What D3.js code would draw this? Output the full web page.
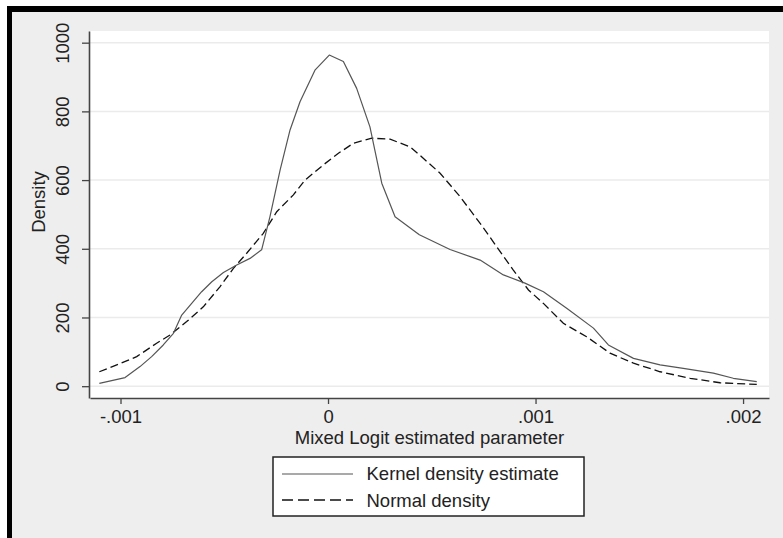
<!DOCTYPE html>
<html>
<head>
<meta charset="utf-8">
<script src="https://cdn.jsdelivr.net/npm/d3@7"></script>
<style>
  html, body { margin: 0; padding: 0; background: #ffffff; }
  svg { display: block; }
  text { font-family: "Liberation Sans", Arial, Helvetica, sans-serif; fill: #222; }
</style>
</head>
<body>
<svg id="chart" width="783" height="538"></svg>
<script>
// ---- data ----
const kernelX = [-0.001102, -0.000978, -0.000906, -0.000850, -0.000794, -0.000745, -0.000705, -0.000657,
  -0.000609, -0.000560, -0.000504, -0.000440, -0.000376, -0.000320, -0.000280, -0.000231, -0.000183,
  -0.000135, -0.000063, 0.000006, 0.000074, 0.000138, 0.000202, 0.000259, 0.000323, 0.000440, 0.000588,
  0.000733, 0.000845, 0.000949, 0.001038, 0.001150, 0.001279, 0.001351, 0.001472, 0.001600, 0.001712,
  0.001857, 0.001953, 0.002066];
const kernelY = [8, 25, 57, 86, 120, 154, 207, 241,
  275, 304, 331, 353, 372, 397, 493, 629, 746,
  828, 920, 964, 945, 867, 755, 591, 493, 441, 398,
  367, 324, 300, 275, 227, 169, 120, 81, 62, 52,
  38, 23, 13];

const normalX = [-0.001102, -0.001018, -0.000922, -0.000826, -0.000761, -0.000681, -0.000601, -0.000520,
  -0.000456, -0.000392, -0.000312, -0.000247, -0.000167, -0.000111, -0.000023, 0.000050, 0.000122,
  0.000211, 0.000299, 0.000395, 0.000443, 0.000540, 0.000636, 0.000733, 0.000813, 0.000893, 0.000966,
  0.001038, 0.001134, 0.001246, 0.001359, 0.001472, 0.001600, 0.001745, 0.001889, 0.002066];
const normalY = [42, 62, 86, 125, 149, 188, 231, 290,
  343, 387, 445, 508, 557, 600, 644, 678, 707,
  722, 719, 697, 672, 620, 552, 474, 406, 338, 280,
  241, 183, 144, 96, 67, 42, 23, 10, 5];

const xTickValues = [-0.001, 0, 0.001, 0.002];
const xTickLabels = ["-.001", "0", ".001", ".002"];
const yTickValues = [0, 200, 400, 600, 800, 1000];
const yTickLabels = ["0", "200", "400", "600", "800", "1000"];

const seriesNames = ["Kernel density estimate", "Normal density"];
const xTitle = "Mixed Logit estimated parameter";
const yTitle = "Density";

// ---- layout ----
const svg = d3.select("#chart");
const plotLeft = 90, plotRight = 769, plotTop = 31, plotBottom = 398;
const fontSize = 18.5;

// background + frame
svg.append("rect").attr("x", 0).attr("y", 0).attr("width", 783).attr("height", 538).attr("fill", "#ffffff");
svg.append("rect").attr("x", 7).attr("y", 6).attr("width", 776).attr("height", 532).attr("fill", "#000000");
svg.append("rect").attr("x", 12).attr("y", 12).attr("width", 771).attr("height", 526).attr("fill", "#eeeeee");

// scales
const x = d3.scaleLinear().domain([-0.001147, 0.002125]).range([plotLeft, plotRight]);
const y = d3.scaleLinear().domain([-34.4, 1034]).range([plotBottom, plotTop]);

// plot region
svg.append("rect").attr("x", plotLeft).attr("y", plotTop)
  .attr("width", plotRight - plotLeft).attr("height", plotBottom - plotTop)
  .attr("fill", "#ffffff");

// gridlines
svg.append("g").selectAll("line").data(yTickValues).join("line")
  .attr("x1", plotLeft).attr("x2", plotRight)
  .attr("y1", d => y(d)).attr("y2", d => y(d))
  .attr("stroke", "#ebebeb").attr("stroke-width", 1.5);

// lines
const kernelData = kernelX.map((v, i) => [v, kernelY[i]]);
const normalData = normalX.map((v, i) => [v, normalY[i]]);
const line = d3.line().x(d => x(d[0])).y(d => y(d[1]));

svg.append("path").datum(normalData).attr("d", line)
  .attr("fill", "none").attr("stroke", "#111").attr("stroke-width", 1.3)
  .attr("stroke-dasharray", "8,4");
svg.append("path").datum(kernelData).attr("d", line)
  .attr("fill", "none").attr("stroke", "#555").attr("stroke-width", 1.2)
  .attr("stroke-linejoin", "round");

// axes
const axisColor = "#444";
const yAxis = svg.append("g").attr("transform", `translate(${plotLeft - 1},0)`)
  .call(d3.axisLeft(y).tickValues(yTickValues).tickFormat((d, i) => yTickLabels[i])
    .tickSize(7).tickSizeOuter(0));
yAxis.select(".domain").attr("stroke", axisColor).attr("stroke-width", 1.6);
yAxis.selectAll(".tick line").attr("stroke", axisColor).attr("stroke-width", 1.3);
yAxis.selectAll(".tick text")
  .attr("transform", "rotate(-90)")
  .attr("x", 0).attr("y", -20.5).attr("dy", 0)
  .attr("text-anchor", "middle")
  .style("font-size", fontSize + "px").style("font-family", "'Liberation Sans', Arial, sans-serif")
  .attr("fill", "#222");

const xAxis = svg.append("g").attr("transform", `translate(0,${plotBottom})`)
  .call(d3.axisBottom(x).tickValues(xTickValues).tickFormat((d, i) => xTickLabels[i])
    .tickSize(6).tickSizeOuter(0));
xAxis.select(".domain").attr("stroke", axisColor).attr("stroke-width", 1.6);
xAxis.selectAll(".tick line").attr("stroke", axisColor).attr("stroke-width", 1.3);
xAxis.selectAll(".tick text")
  .attr("y", 25).attr("dy", 0)
  .style("font-size", fontSize + "px").style("font-family", "'Liberation Sans', Arial, sans-serif")
  .attr("fill", "#222");

// axis titles
svg.append("text").attr("x", (plotLeft + plotRight) / 2).attr("y", 444)
  .attr("text-anchor", "middle").style("font-size", fontSize + "px").text(xTitle);
svg.append("text").attr("transform", "translate(45,202) rotate(-90)")
  .attr("text-anchor", "middle").style("font-size", fontSize + "px").text(yTitle);

// legend
const lg = svg.append("g");
lg.append("rect").attr("x", 273).attr("y", 457).attr("width", 311).attr("height", 59)
  .attr("fill", "#ffffff").attr("stroke", "#222").attr("stroke-width", 1.5);
lg.append("line").attr("x1", 282).attr("x2", 353).attr("y1", 474).attr("y2", 474)
  .attr("stroke", "#555").attr("stroke-width", 1.2);
lg.append("line").attr("x1", 282).attr("x2", 353).attr("y1", 500).attr("y2", 500)
  .attr("stroke", "#111").attr("stroke-width", 1.3).attr("stroke-dasharray", "11,5");
lg.append("text").attr("x", 366.5).attr("y", 480).style("font-size", fontSize + "px").text(seriesNames[0]);
lg.append("text").attr("x", 366.5).attr("y", 507).style("font-size", fontSize + "px").text(seriesNames[1]);
</script>
</body>
</html>
